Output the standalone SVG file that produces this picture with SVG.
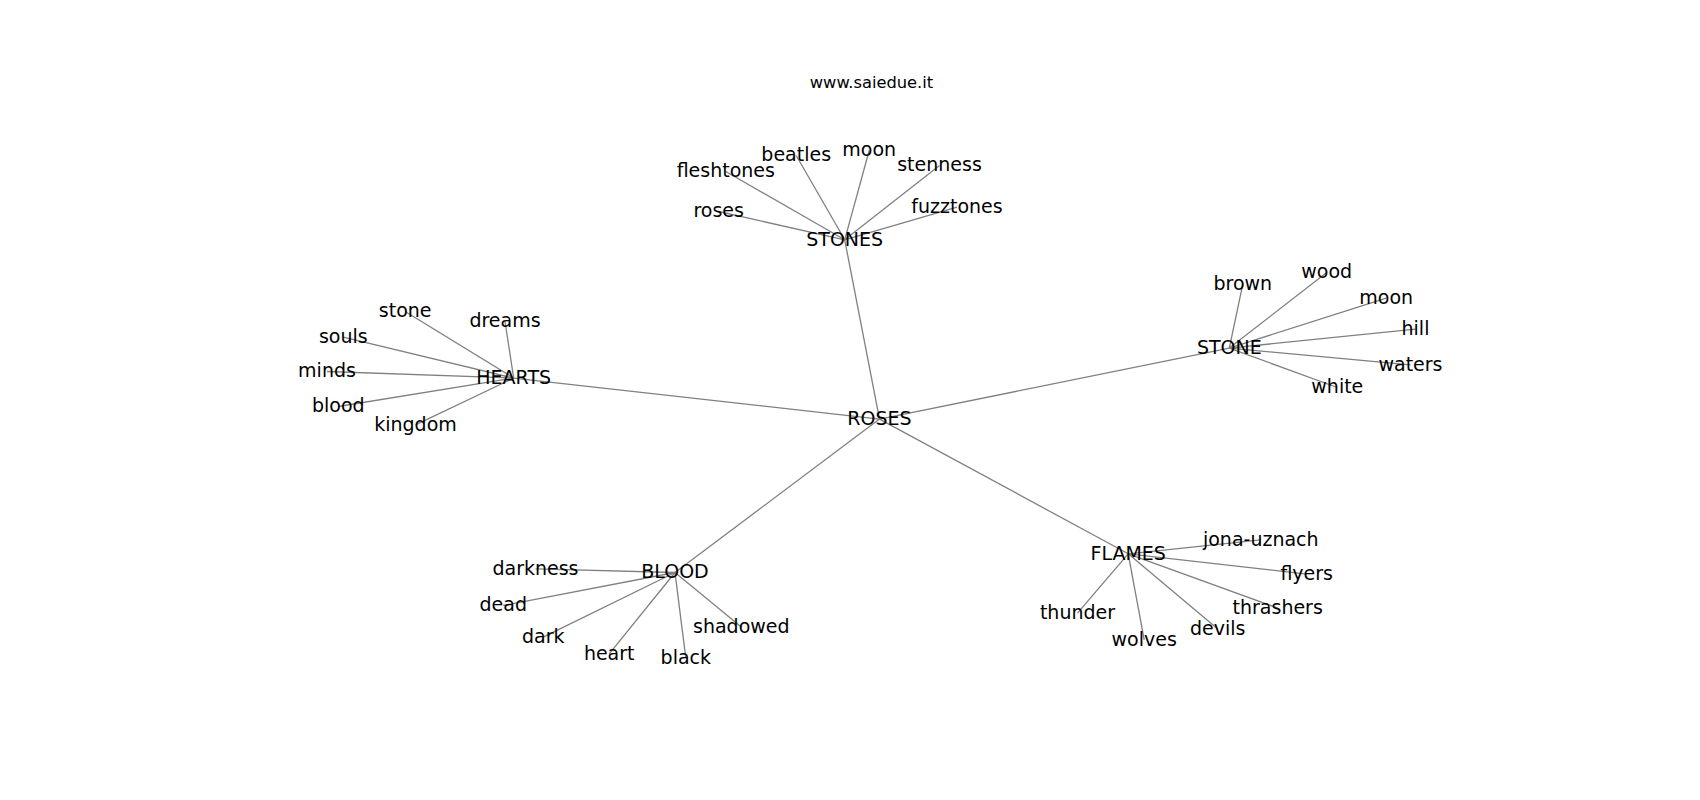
<svg xmlns="http://www.w3.org/2000/svg" width="1700" height="800" viewBox="0 0 1700 800">
<style>
text{font-family:"DejaVu Sans","Liberation Sans",sans-serif;fill:#000;text-anchor:middle}
.n{font-size:19px}
.t{font-size:16.3px}
#edges line{stroke:#808080;stroke-width:1.3}
</style>
<rect width="1700" height="800" fill="#fff"/>
<text class="t" x="871.5" y="87.8">www.saiedue.it</text>
<g id="edges">
<line x1="879.5" y1="419.1" x2="844.7" y2="239.8"/>
<line x1="879.5" y1="419.1" x2="513.7" y2="378.1"/>
<line x1="879.5" y1="419.1" x2="1229.3" y2="348.1"/>
<line x1="879.5" y1="419.1" x2="675" y2="572.5"/>
<line x1="879.5" y1="419.1" x2="1128.2" y2="553.8"/>
<line x1="844.7" y1="239.8" x2="718.7" y2="211.5"/>
<line x1="844.7" y1="239.8" x2="725.8" y2="171.5"/>
<line x1="844.7" y1="239.8" x2="796.2" y2="155.5"/>
<line x1="844.7" y1="239.8" x2="869.2" y2="150.5"/>
<line x1="844.7" y1="239.8" x2="939.5" y2="165.5"/>
<line x1="844.7" y1="239.8" x2="957" y2="207.1"/>
<line x1="513.7" y1="378.1" x2="405.2" y2="311.5"/>
<line x1="513.7" y1="378.1" x2="505" y2="321.5"/>
<line x1="513.7" y1="378.1" x2="343.3" y2="337.1"/>
<line x1="513.7" y1="378.1" x2="327" y2="371.5"/>
<line x1="513.7" y1="378.1" x2="338.3" y2="406.5"/>
<line x1="513.7" y1="378.1" x2="415.5" y2="424.8"/>
<line x1="1229.3" y1="348.1" x2="1242.8" y2="284.1"/>
<line x1="1229.3" y1="348.1" x2="1326.7" y2="272.5"/>
<line x1="1229.3" y1="348.1" x2="1386.2" y2="298.1"/>
<line x1="1229.3" y1="348.1" x2="1415.5" y2="329.1"/>
<line x1="1229.3" y1="348.1" x2="1410.5" y2="364.8"/>
<line x1="1229.3" y1="348.1" x2="1337.3" y2="387.5"/>
<line x1="675" y1="572.5" x2="535.5" y2="568.8"/>
<line x1="675" y1="572.5" x2="503.3" y2="605.5"/>
<line x1="675" y1="572.5" x2="543.2" y2="637.1"/>
<line x1="675" y1="572.5" x2="609.2" y2="653.8"/>
<line x1="675" y1="572.5" x2="685.8" y2="658.1"/>
<line x1="675" y1="572.5" x2="741.3" y2="627.1"/>
<line x1="1128.2" y1="553.8" x2="1260.8" y2="539.8"/>
<line x1="1128.2" y1="553.8" x2="1306.7" y2="574.1"/>
<line x1="1128.2" y1="553.8" x2="1277.7" y2="608.1"/>
<line x1="1128.2" y1="553.8" x2="1217.8" y2="629.1"/>
<line x1="1128.2" y1="553.8" x2="1144.2" y2="639.8"/>
<line x1="1128.2" y1="553.8" x2="1077.5" y2="613.1"/>
</g>
<g id="n-roses"><text class="n" x="879.5" y="424.8">ROSES</text></g>
<g id="n-stones"><text class="n" x="844.7" y="245.5">STONES</text></g>
<g id="n-stones-roses"><text class="n" x="718.7" y="217.2">roses</text></g>
<g id="n-fleshtones"><text class="n" x="725.8" y="177.2">fleshtones</text></g>
<g id="n-beatles"><text class="n" x="796.2" y="161.2">beatles</text></g>
<g id="n-stones-moon"><text class="n" x="869.2" y="156.2">moon</text></g>
<g id="n-stenness"><text class="n" x="939.5" y="171.2">stenness</text></g>
<g id="n-fuzztones"><text class="n" x="957" y="212.8">fuzztones</text></g>
<g id="n-hearts"><text class="n" x="513.7" y="383.8">HEARTS</text></g>
<g id="n-hearts-stone"><text class="n" x="405.2" y="317.2">stone</text></g>
<g id="n-dreams"><text class="n" x="505" y="327.2">dreams</text></g>
<g id="n-souls"><text class="n" x="343.3" y="342.8">souls</text></g>
<g id="n-minds"><text class="n" x="327" y="377.2">minds</text></g>
<g id="n-hearts-blood"><text class="n" x="338.3" y="412.2">blood</text></g>
<g id="n-kingdom"><text class="n" x="415.5" y="430.5">kingdom</text></g>
<g id="n-stone"><text class="n" x="1229.3" y="353.8">STONE</text></g>
<g id="n-brown"><text class="n" x="1242.8" y="289.8">brown</text></g>
<g id="n-wood"><text class="n" x="1326.7" y="278.2">wood</text></g>
<g id="n-stone-moon"><text class="n" x="1386.2" y="303.8">moon</text></g>
<g id="n-hill"><text class="n" x="1415.5" y="334.8">hill</text></g>
<g id="n-waters"><text class="n" x="1410.5" y="370.8">waters</text></g>
<g id="n-white"><text class="n" x="1337.3" y="393.2">white</text></g>
<g id="n-blood"><text class="n" x="675" y="578.2">BLOOD</text></g>
<g id="n-darkness"><text class="n" x="535.5" y="574.5">darkness</text></g>
<g id="n-dead"><text class="n" x="503.3" y="611.2">dead</text></g>
<g id="n-dark"><text class="n" x="543.2" y="642.8">dark</text></g>
<g id="n-heart"><text class="n" x="609.2" y="659.5">heart</text></g>
<g id="n-black"><text class="n" x="685.8" y="664">black</text></g>
<g id="n-shadowed"><text class="n" x="741.3" y="633">shadowed</text></g>
<g id="n-flames"><text class="n" x="1128.2" y="559.5">FLAMES</text></g>
<g id="n-jona-uznach"><text class="n" x="1260.8" y="545.5">jona-uznach</text></g>
<g id="n-flyers"><text class="n" x="1306.7" y="580">flyers</text></g>
<g id="n-thrashers"><text class="n" x="1277.7" y="614">thrashers</text></g>
<g id="n-devils"><text class="n" x="1217.8" y="635">devils</text></g>
<g id="n-wolves"><text class="n" x="1144.2" y="645.7">wolves</text></g>
<g id="n-thunder"><text class="n" x="1077.5" y="619">thunder</text></g>
</svg>
